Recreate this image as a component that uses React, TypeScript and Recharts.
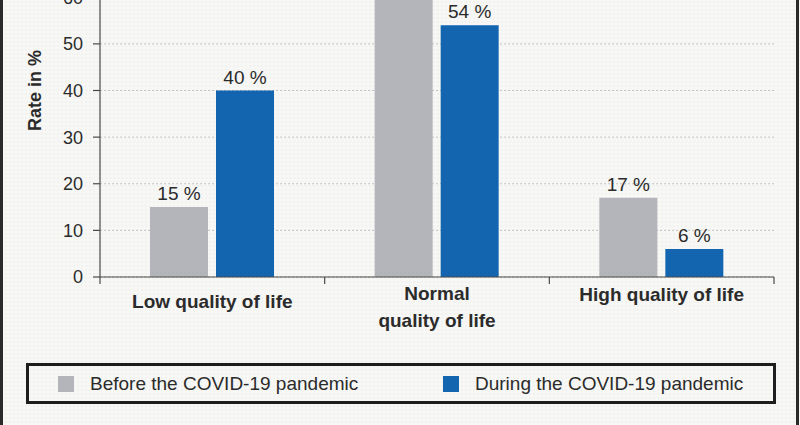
import React from 'react';
import { BarChart, Bar, XAxis, YAxis, CartesianGrid, LabelList } from 'recharts';

// values (rate in %)
const categories = ['Low quality of life', 'Normal quality of life', 'High quality of life'];
const categoryLines = [['Low quality of life'], ['Normal', 'quality of life'], ['High quality of life']];
const beforeValues = [15, 68, 17];
const duringValues = [40, 54, 6];
const yTicks = [0, 10, 20, 30, 40, 50, 60, 70, 80];

const series = [
    { key: 'before', name: 'Before the COVID-19 pandemic', color: '#b4b5ba' },
    { key: 'during', name: 'During the COVID-19 pandemic', color: '#1365b0' },
];

const data = categories.map((category, i) => ({
    category,
    before: beforeValues[i],
    during: duringValues[i],
}));

const FONT = '"Liberation Sans", Arial, sans-serif';
const TEXT = '#2b2b2b';
const AXIS = '#4a4a4a';

// first line baseline offset per category, the source places them unevenly
const firstBaseline = [31, 23, 24];

const CategoryTick = (props: any) => {
    const { x, y, payload, index } = props;
    const half = payload && payload.offset ? payload.offset : 112;
    const lines = categoryLines[index] || [payload.value];
    const last = index === categories.length - 1;
    return (
        <g>
            <line x1={x - half} y1={y} x2={x - half} y2={y + 7} stroke={AXIS} strokeWidth={1.2} />
            {last && <line x1={x + half} y1={y} x2={x + half} y2={y + 7} stroke={AXIS} strokeWidth={1.2} />}
            <text x={x} y={y} textAnchor="middle" fill={TEXT} fontSize={19} fontWeight="bold" fontFamily={FONT}>
                {lines.map((line: string, i: number) => (
                    <tspan key={i} x={x} dy={i === 0 ? firstBaseline[index] : 27}>{line}</tspan>
                ))}
            </text>
        </g>
    );
};

export default function App() {
    return (
        <div
            style={{
                position: 'fixed',
                left: 0,
                top: 0,
                width: 800,
                height: 425,
                overflow: 'hidden',
                backgroundColor: '#f7f7f5',
                backgroundImage: 'radial-gradient(#e9e9e6 0.6px, transparent 0.8px)',
                backgroundSize: '4px 4px',
                fontFamily: FONT,
            }}
        >
            <div style={{ position: 'absolute', left: 0, top: 0, width: 3, height: 425, background: '#2a2a2a' }} />
            <div style={{ position: 'absolute', left: 796, top: 0, width: 3, height: 425, background: '#2a2a2a' }} />
            <div style={{ position: 'absolute', left: 0, top: -130 }}>
                <BarChart
                    width={800}
                    height={555}
                    data={data}
                    margin={{ top: 34, right: 26, bottom: 88, left: 0 }}
                    barSize={58}
                    barGap={8}
                >
                    <CartesianGrid vertical={false} stroke="#c4c4c4" strokeDasharray="2 2" />
                    <XAxis
                        dataKey="category"
                        height={60}
                        axisLine={{ stroke: AXIS, strokeWidth: 1.2 }}
                        tickLine={false}
                        tickSize={0}
                        tickMargin={0}
                        interval={0}
                        tick={<CategoryTick />}
                    />
                    <YAxis
                        width={100}
                        domain={[0, 80]}
                        ticks={yTicks}
                        interval={0}
                        axisLine={{ stroke: AXIS, strokeWidth: 1.2 }}
                        tickLine={{ stroke: AXIS, strokeWidth: 1.2 }}
                        tickSize={7}
                        tickMargin={10}
                        tick={{ fill: TEXT, fontSize: 18, fontFamily: FONT }}
                        label={{
                            value: 'Rate in %',
                            angle: -90,
                            position: 'center',
                            dx: -15,
                            style: { fill: TEXT, fontSize: 18, fontWeight: 'bold', fontFamily: FONT, textAnchor: 'middle' },
                        }}
                    />
                    {series.map((s) => (
                        <Bar key={s.key} dataKey={s.key} name={s.name} fill={s.color} isAnimationActive={false}>
                            <LabelList
                                dataKey={s.key}
                                position="top"
                                offset={7}
                                formatter={(v: any) => `${v} %`}
                                fill={TEXT}
                                fontSize={19}
                                fontFamily={FONT}
                            />
                        </Bar>
                    ))}
                </BarChart>
            </div>
            <div
                style={{
                    position: 'absolute',
                    left: 26,
                    top: 363,
                    width: 750,
                    height: 41,
                    boxSizing: 'border-box',
                    border: '3px solid #1e1e1e',
                }}
            >
                {series.map((s, i) => (
                    <div
                        key={s.key}
                        style={{
                            position: 'absolute',
                            left: i === 0 ? 29 : 414,
                            top: 0,
                            height: 35,
                            display: 'flex',
                            alignItems: 'center',
                        }}
                    >
                        <span style={{ display: 'inline-block', width: 16, height: 16, background: s.color }} />
                        <span style={{ marginLeft: 16, fontSize: 19, color: TEXT, whiteSpace: 'nowrap' }}>{s.name}</span>
                    </div>
                ))}
            </div>
        </div>
    );
}
